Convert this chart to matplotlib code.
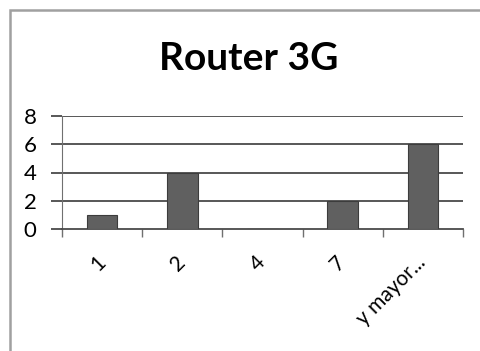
import matplotlib
matplotlib.use("Agg")
import matplotlib.pyplot as plt
from matplotlib.patches import Rectangle
import numpy as np

categories = ["1", "2", "4", "7", "y mayor..."]
counts = [1, 4, 0, 2, 6]
y_ticks = [0, 2, 4, 6, 8]

plt.rcParams["font.family"] = ["Lato", "DejaVu Sans"]

fig = plt.figure(figsize=(4.8, 3.51), dpi=100)
fig.patch.set_facecolor("white")

# outer chart frame (continues past the right and bottom edges)
fig.patches.append(Rectangle((10 / 480, -0.1), 1.2, 1 - 10 / 351 + 0.1,
                             transform=fig.transFigure, fill=False,
                             edgecolor="#a0a0a0", linewidth=1.8, zorder=0))

ax = fig.add_axes([62 / 480, 1 - 229 / 351, (463 - 62) / 480, (229 - 116) / 351])
x = np.arange(len(categories))
ax.bar(x, counts, width=0.38, color="#606060", edgecolor="#3c3c3c",
       linewidth=0.8, zorder=3)

ax.set_xlim(-0.5, len(categories) - 0.5)
ax.set_ylim(0, 8)
ax.set_yticks(y_ticks)
ax.set_yticklabels([str(v) for v in y_ticks], fontsize=16)
for v in y_ticks[1:]:
    ax.axhline(v, color="#4a4a4a", linewidth=1.3, zorder=1)

ax.set_xticks(x)
ax.set_xticklabels(categories, fontsize=15, rotation=45, ha="right",
                   va="center", rotation_mode="anchor")
ax.set_xticks(np.arange(-0.5, len(categories)), minor=True)
ax.tick_params(axis="x", which="major", length=0, pad=22)
ax.tick_params(axis="x", which="minor", length=6, width=1.0, color="#707070")
ax.tick_params(axis="y", length=8, width=1.3, color="#4a4a4a", pad=15)
for lbl in ax.get_yticklabels():
    lbl.set_horizontalalignment("center")

for side in ("top", "right"):
    ax.spines[side].set_visible(False)
ax.spines["left"].set_color("#707070")
ax.spines["bottom"].set_color("#4a4a4a")
ax.spines["bottom"].set_linewidth(1.3)

fig.text(0.518, 1 - 58 / 351, "Router 3G", ha="center", va="center",
         fontsize=28, fontweight="bold")

fig.savefig("out.png", dpi=100)
